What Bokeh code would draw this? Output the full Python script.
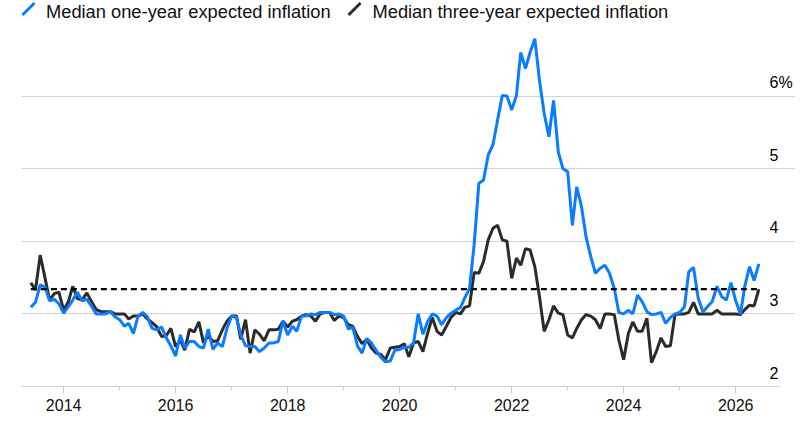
import pandas as pd
from bokeh.plotting import figure
from bokeh.models import (Range1d, FixedTicker, Grid, DatetimeTickFormatter,
                          Label, PolyAnnotation)
from bokeh.embed import file_html
from bokeh.resources import INLINE

# Monthly survey data, June 2013 onwards
start_month = "2013-06-01"
one_year = [
    3.09, 3.16, 3.40, 3.37, 3.18, 3.20, 3.14, 3.01, 3.10, 3.19, 3.30, 3.18,
    3.20, 3.11, 3.00, 3.00, 3.00, 3.03, 2.96, 2.92, 2.83, 2.87, 2.73, 2.97,
    3.02, 2.96, 2.80, 2.78, 2.82, 2.67, 2.56, 2.42, 2.71, 2.53, 2.62, 2.62,
    2.55, 2.53, 2.79, 2.51, 2.60, 2.55, 2.80, 2.97, 2.95, 2.71, 2.56, 2.55,
    2.55, 2.48, 2.53, 2.60, 2.60, 2.62, 2.90, 2.71, 2.83, 2.76, 2.97, 2.97,
    3.00, 2.99, 3.02, 3.02, 3.02, 2.99, 3.00, 2.97, 2.79, 2.82, 2.56, 2.46,
    2.66, 2.60, 2.50, 2.40, 2.34, 2.35, 2.50, 2.51, 2.54, 2.54, 2.60, 3.00,
    2.72, 2.89, 3.00, 2.97, 2.85, 2.95, 3.01, 3.05, 3.09, 3.22, 3.35, 3.95,
    4.80, 4.84, 5.19, 5.33, 5.67, 6.01, 6.00, 5.81, 6.01, 6.60, 6.38, 6.60,
    6.79, 6.22, 5.76, 5.44, 5.94, 5.23, 5.00, 4.96, 4.22, 4.75, 4.48, 4.06,
    3.79, 3.56, 3.63, 3.67, 3.56, 3.35, 3.02, 3.00, 3.05, 3.00, 3.26, 3.17,
    3.03, 2.99, 3.00, 3.02, 2.87, 2.95, 3.00, 3.02, 3.10, 3.58, 3.64, 3.22,
    3.03, 3.10, 3.17, 3.38, 3.24, 3.19, 3.43, 3.18, 3.00, 3.38, 3.65, 3.46,
    3.69,
]
three_year = [
    3.43, 3.33, 3.81, 3.50, 3.19, 3.28, 3.30, 3.05, 3.17, 3.38, 3.21, 3.19,
    3.29, 3.17, 3.06, 3.03, 3.03, 3.03, 3.00, 3.00, 3.00, 2.93, 2.97, 2.97,
    3.00, 2.93, 2.88, 2.82, 2.69, 2.70, 2.80, 2.55, 2.64, 2.50, 2.79, 2.75,
    2.89, 2.60, 2.70, 2.62, 2.63, 2.78, 2.90, 2.97, 2.97, 2.65, 2.92, 2.46,
    2.78, 2.72, 2.63, 2.78, 2.78, 2.79, 2.90, 2.82, 2.90, 2.92, 2.97, 2.99,
    2.97, 2.90, 3.00, 3.02, 3.02, 2.91, 2.97, 2.95, 2.85, 2.83, 2.69, 2.59,
    2.65, 2.53, 2.46, 2.44, 2.37, 2.53, 2.54, 2.55, 2.59, 2.41, 2.60, 2.62,
    2.48, 2.73, 2.95, 2.76, 2.71, 2.83, 2.95, 3.02, 3.00, 3.09, 3.11, 3.57,
    3.56, 3.72, 4.02, 4.18, 4.22, 4.02, 4.00, 3.49, 3.77, 3.67, 3.90, 3.88,
    3.65, 3.24, 2.76, 2.92, 3.11, 3.01, 2.99, 2.71, 2.67, 2.80, 2.92, 2.99,
    2.97, 2.92, 2.80, 3.00, 3.00, 2.99, 2.64, 2.37, 2.73, 2.89, 2.76, 2.76,
    2.94, 2.33, 2.48, 2.67, 2.55, 2.56, 2.99, 3.00, 3.00, 3.02, 3.16, 3.00,
    3.00, 3.00, 3.00, 3.05, 3.00, 3.00, 3.00, 3.00, 2.99, 3.06, 3.12, 3.11,
    3.34,
]
latest_three_year = 3.34
y_ticks = [2, 3, 4, 5, 6]
y_tick_labels = ["2", "3", "4", "5", "6%"]
year_ticks = [2014, 2016, 2018, 2020, 2022, 2024, 2026]
minor_year_ticks = [2013, 2015, 2017, 2019, 2021, 2023, 2025]
series_names = ["Median one-year expected inflation",
                "Median three-year expected inflation"]

BLUE = "#0b7bff"
DARK = "#2b2b2b"
FONT = "Liberation Sans"


def ms(ts):
    return pd.Timestamp(ts).value / 1e6


dates = pd.date_range(start_month, periods=len(one_year), freq="MS")

# frame is 386px tall; ~72.6 px per percentage point
PX = 72.6
y_lo = 2
y_hi = y_lo + 386 / PX
x_lo, x_hi = "2013-04-01", "2027-01-26"
grid_end = "2026-10-14"

p = figure(width=795, height=420, x_axis_type="datetime", y_axis_location=None,
           output_backend="svg", toolbar_location=None,
           min_border_left=21, min_border_right=0, min_border_top=0,
           min_border_bottom=34)
p.x_range = Range1d(pd.Timestamp(x_lo), pd.Timestamp(x_hi))
p.y_range = Range1d(y_lo, y_hi)
p.outline_line_color = None
p.background_fill_color = "white"
p.border_fill_color = "white"

# horizontal gridlines only, stopping short of the labels' right edge
for g in list(p.center):
    if isinstance(g, Grid):
        p.center.remove(g)
p.add_layout(Grid(dimension=1, ticker=FixedTicker(ticks=y_ticks),
                  bounds=(ms(x_lo), ms(grid_end)),
                  grid_line_color="#d2d2d2", grid_line_width=1))

ax = p.xaxis[0]
ax.ticker = FixedTicker(ticks=[ms(f"{y}-01-01") for y in year_ticks],
                        minor_ticks=[ms(f"{y}-01-01") for y in minor_year_ticks])
ax.formatter = DatetimeTickFormatter(years="%Y", months="%Y", days="%Y",
                                     hours="%Y", minutes="%Y")
ax.bounds = (ms(x_lo), ms(grid_end))
ax.axis_line_color = "#d2d2d2"
ax.major_tick_line_color = "#c8c8c8"
ax.minor_tick_line_color = "#c8c8c8"
ax.major_tick_in = 0
ax.major_tick_out = 7
ax.minor_tick_in = 0
ax.minor_tick_out = 4
ax.major_label_standoff = 5
ax.major_label_text_font = FONT
ax.major_label_text_font_size = "16px"
ax.major_label_text_color = "#111111"

p.line(dates, three_year, line_color=DARK, line_width=3)
p.line(dates, one_year, line_color=BLUE, line_width=3)
p.line([dates[0], dates[-1]], [latest_three_year, latest_three_year],
       line_color="black", line_width=2.2, line_dash="6 4")

# screen x for annotations is measured from the frame's left edge (x=21)
# y labels sit just above their gridlines, at the right edge
for v, t in zip(y_ticks, y_tick_labels):
    p.add_layout(Label(x=748, x_units="screen", y=v + 14 / PX, y_units="data",
                       text=t, text_font=FONT, text_font_size="16px",
                       text_color="#000000", text_baseline="alphabetic"))

# legend with slanted line swatches
leg_y = y_hi - 10.5 / PX
for name, col, x_icon, x_text in zip(series_names, [BLUE, DARK], [1, 327], [24.5, 351]):
    p.add_layout(PolyAnnotation(xs=[x_icon, x_icon + 12], ys=[y_hi - 14.5 / PX, y_hi - 2.5 / PX],
                                xs_units="screen", ys_units="data",
                                line_color=col, line_alpha=1, line_width=3,
                                fill_alpha=0))
    p.add_layout(Label(x=x_text, x_units="screen", y=leg_y, y_units="data",
                       text=name, text_font=FONT, text_font_size="18.3px",
                       text_color="#111111", text_baseline="alphabetic"))

open("out.html", "w").write(file_html(p, INLINE))
